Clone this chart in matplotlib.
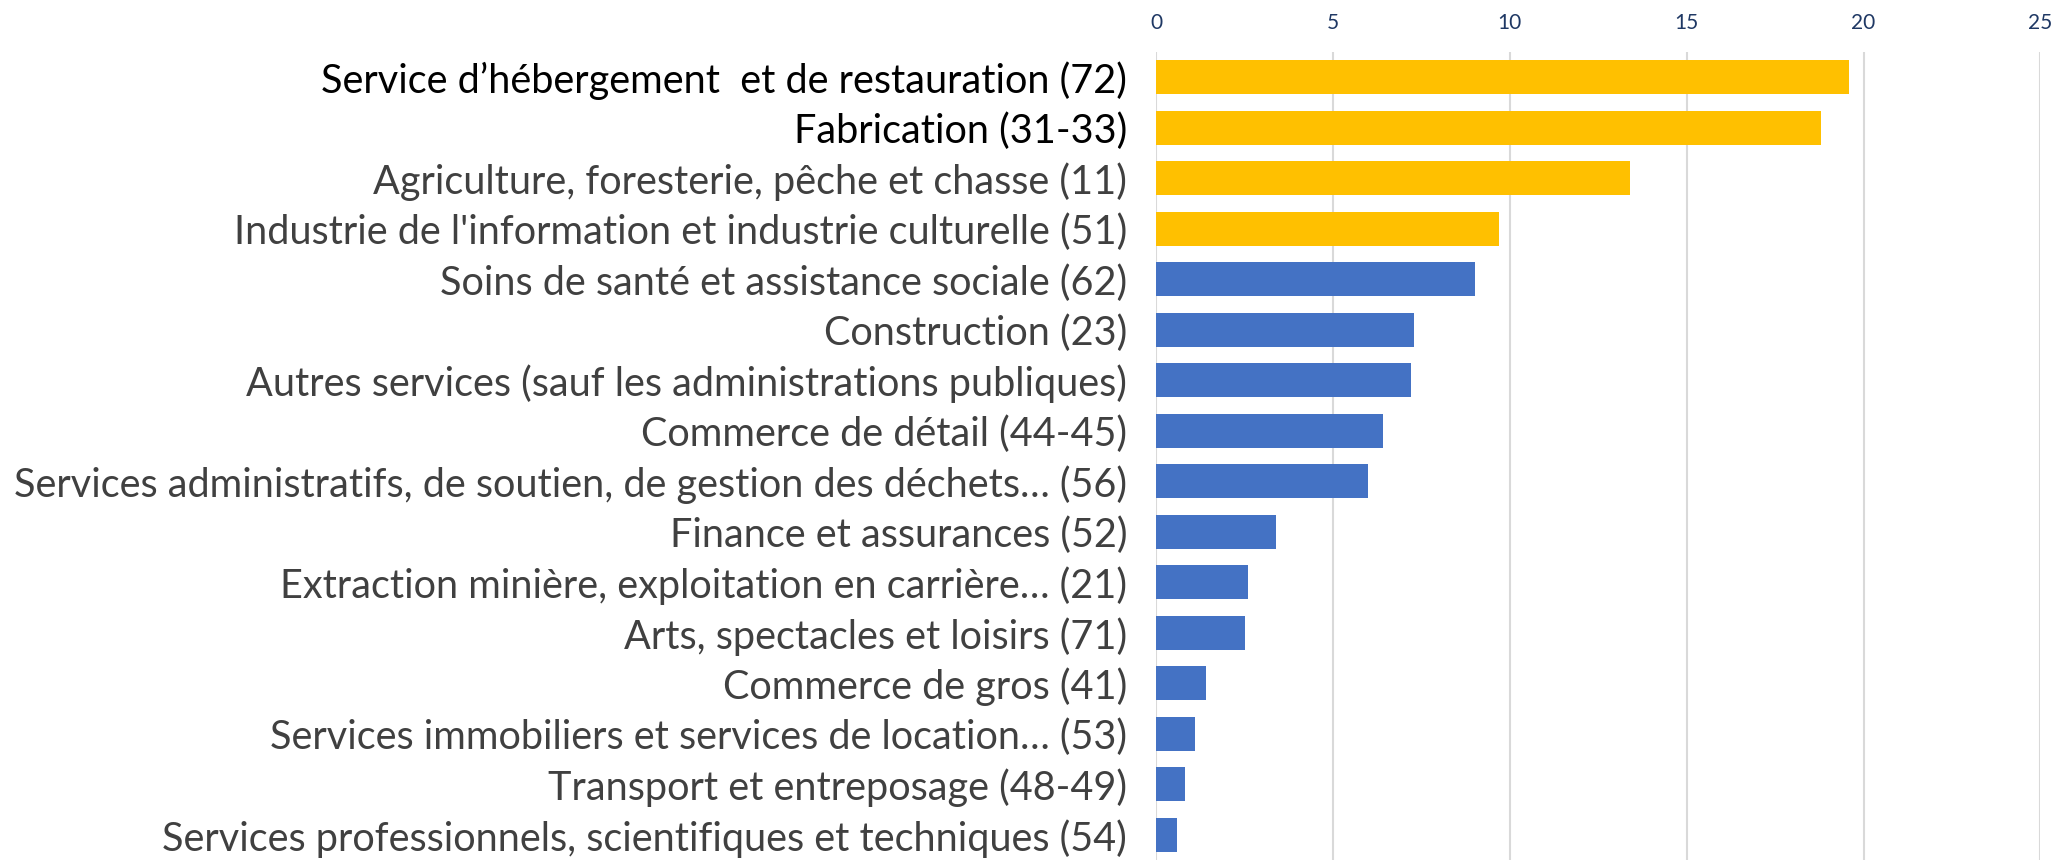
import matplotlib.pyplot as plt

# Secteurs (code SCIAN) et valeurs
secteurs = [
    "Service d’hébergement  et de restauration (72)",
    "Fabrication (31-33)",
    "Agriculture, foresterie, pêche et chasse (11)",
    "Industrie de l'information et industrie culturelle (51)",
    "Soins de santé et assistance sociale (62)",
    "Construction (23)",
    "Autres services (sauf les administrations publiques)",
    "Commerce de détail (44-45)",
    "Services administratifs, de soutien, de gestion des déchets… (56)",
    "Finance et assurances (52)",
    "Extraction minière, exploitation en carrière… (21)",
    "Arts, spectacles et loisirs (71)",
    "Commerce de gros (41)",
    "Services immobiliers et services de location… (53)",
    "Transport et entreposage (48-49)",
    "Services professionnels, scientifiques et techniques (54)",
]
valeurs = [19.6, 18.8, 13.4, 9.7, 9.0, 7.3, 7.2, 6.4, 6.0, 3.4, 2.6, 2.5, 1.4, 1.1, 0.8, 0.6]
nb_surlignes = 4  # les 4 premiers secteurs en jaune
graduations = [0, 5, 10, 15, 20, 25]

jaune = "#FFC000"
bleu = "#4472C4"
couleurs = [jaune if i < nb_surlignes else bleu for i in range(len(valeurs))]

plt.rcParams['font.family'] = ['Lato', 'DejaVu Sans']

fig = plt.figure(figsize=(20.61, 8.6), dpi=100)
ax = fig.add_axes([0.561, 0.0, 0.429, 0.9395])

pos = list(range(len(valeurs)))
ax.barh(pos, valeurs, height=0.68, color=couleurs, zorder=2)

ax.set_xlim(0, 25)
ax.set_ylim(len(valeurs) - 0.5, -0.5)
ax.set_xticks(graduations)
ax.xaxis.tick_top()
ax.tick_params(axis='x', length=0, pad=14, labelsize=15, labelcolor="#1F3864")
ax.grid(axis='x', color="#D9D9D9", linewidth=1.5, zorder=0)

ax.set_yticks(pos)
ax.set_yticklabels(secteurs, fontsize=28.5)
ax.tick_params(axis='y', length=0, pad=21)
for i, lab in enumerate(ax.get_yticklabels()):
    lab.set_color("black" if i < 2 else "#404040")

for s in ax.spines.values():
    s.set_visible(False)

fig.savefig("out.png", dpi=100)
